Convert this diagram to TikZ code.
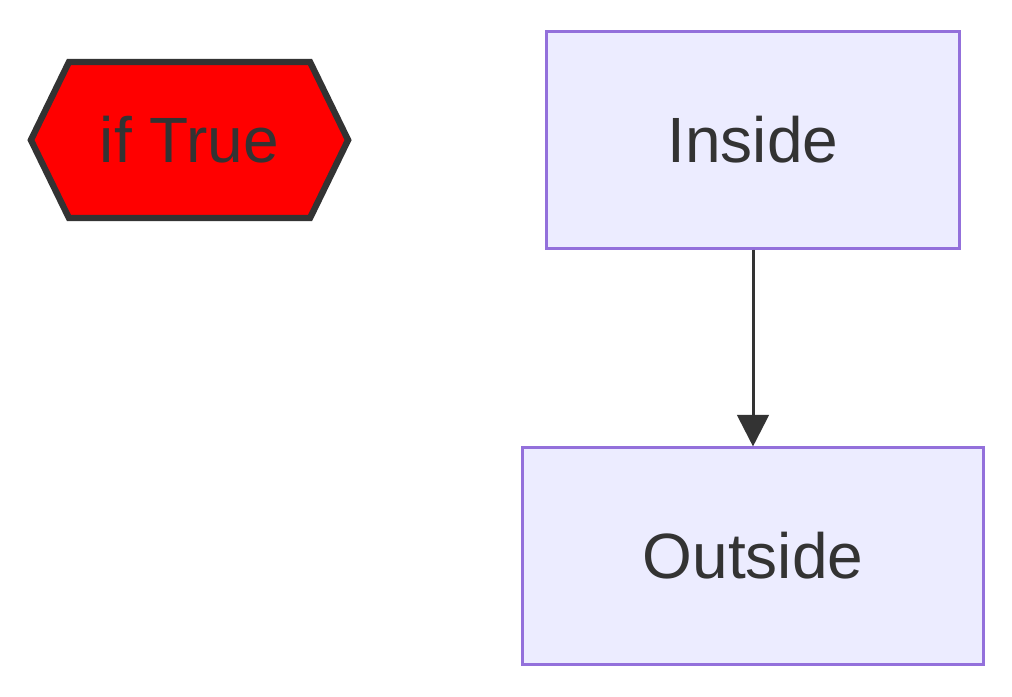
\documentclass[tikz,border=0pt]{standalone}
\usepackage{fontspec}
\setmainfont{Liberation Sans}
\usetikzlibrary{arrows.meta,shapes.symbols}
\definecolor{boxfill}{HTML}{ECECFF}
\definecolor{boxline}{HTML}{9370DB}
\definecolor{darkline}{HTML}{333333}
\tikzstyle{block}=[
	rectangle,
	draw=boxline,
	fill=boxfill,
	line width=0.85pt,
	text=darkline,
	font=\fontsize{18.2}{22}\selectfont
]
\tikzstyle{condition}=[
	signal,
	signal to=west and east,
	signal pointer angle=128,
	draw=darkline,
	fill=red,
	line width=1.8pt,
	text=darkline,
	font=\fontsize{18.2}{22}\selectfont,
	inner sep=0pt
]
\tikzstyle{flow}=[
	-{Triangle[length=9pt,width=9pt]},
	draw=darkline,
	fill=darkline,
	line width=0.85pt
]

\begin{document}
\begin{tikzpicture}[x=0.01cm,y=-0.01cm]
\useasboundingbox (0,0) rectangle (1012,696);
\node [condition, minimum width=3.17cm, minimum height=1.56cm] (IfTrue) at (189.5,140) {if True};
\node [block, minimum width=4.12cm, minimum height=2.16cm] (Inside) at (753,140) {Inside};
\node [block, minimum width=4.61cm, minimum height=2.16cm] (Outside) at (753,556) {Outside};
\draw [flow] (Inside) -- (Outside);
\end{tikzpicture}
\end{document}
